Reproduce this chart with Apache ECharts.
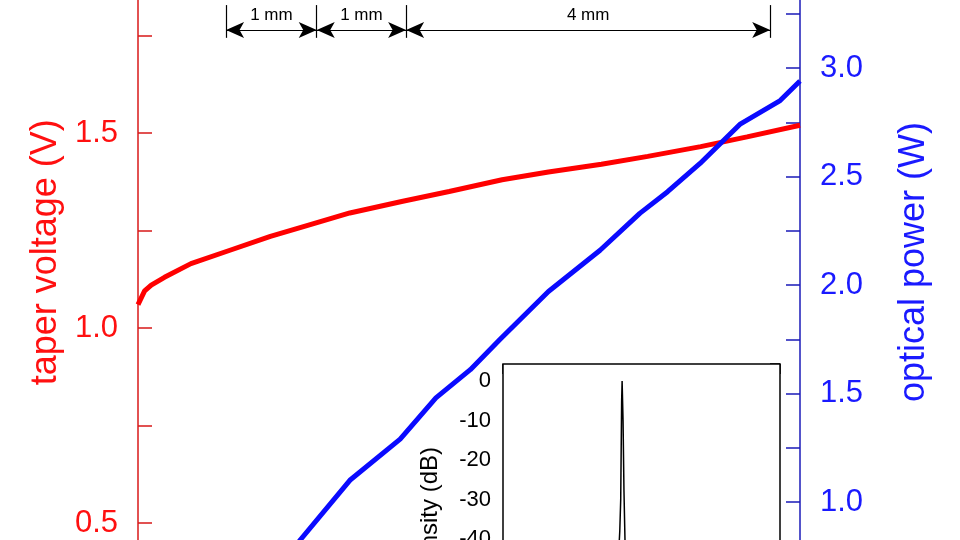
<!DOCTYPE html>
<html><head><meta charset="utf-8">
<script src="https://cdn.jsdelivr.net/npm/echarts@6/dist/echarts.min.js"></script>
<style>html,body{margin:0;background:#fff}#c{width:960px;height:540px}</style>
</head><body><div id="c"></div>
<script>
const voltX = [0,1,2,4,8,14,20,25,32,40,47,55,62,70,77,85,92,100];
const voltY = [1.06,1.095,1.11,1.13,1.165,1.20,1.235,1.26,1.295,1.325,1.35,1.38,1.40,1.42,1.44,1.465,1.49,1.52];
const powX = [20,24.5,32,39.6,45,50.2,54.7,62,69.8,75.8,80,84.9,90.9,97,100];
const powY = [0.62,0.825,1.1,1.29,1.48,1.61,1.75,1.97,2.16,2.33,2.43,2.56,2.74,2.85,2.94];
const specX = [0,1,1.9,2.0,2.03,2.05,2.07,2.08,2.1,2.12,2.15,2.2,3,4,5.46];
const specY = [-60,-60,-55,-45,-38,-30,-5,0,-10,-28,-45,-55,-60,-60,-60];
const markers = [13.3,27,40.5,95.5];
const markerLabels = ['1 mm','1 mm','4 mm'];

const vTop = 1.828, vBot = 1.744, vArrow = 1.764;
const mlData = markers.map(x => [{coord:[x,vTop],symbol:'none'},{coord:[x,vBot],symbol:'none'}]);
markers.slice(0,-1).forEach((x,i)=>{
  mlData.push([{coord:[x,vArrow],symbol:'arrow',label:{show:true,formatter:markerLabels[i]}},{coord:[markers[i+1],vArrow],symbol:'arrow'}]);
});
const halfFmt = v => (Math.abs(v*2-Math.round(v*2))<1e-6) ? v.toFixed(1) : '';

const chart = echarts.init(document.getElementById('c'));
chart.setOption({
  animation:false,
  grid:[{left:138,right:160,top:-62,bottom:-80.5,outerBoundsMode:'none',containLabel:false},
        {left:138,right:160,top:-40.5,bottom:-70.5,outerBoundsMode:'none',containLabel:false},
        {left:503,right:180,top:364,bottom:-38.5,outerBoundsMode:'none',containLabel:false,show:true,backgroundColor:'#fff',borderColor:'#000',borderWidth:1.5,z:5}],
  xAxis:[{gridIndex:0,type:'value',min:0,max:100,show:false},
         {gridIndex:1,type:'value',min:0,max:100,show:false},
         {gridIndex:2,type:'value',min:-0.47,max:5.46,interval:1,position:'top',
          axisLine:{show:false,onZero:false},axisLabel:{show:false},splitLine:{show:false},
          axisTick:{show:true,inside:true,length:10,lineStyle:{color:'#000',width:1.5}}}],
  yAxis:[
    {gridIndex:0,type:'value',min:0.25,max:2.0,interval:0.25,position:'left',
     name:'taper voltage (V)',nameLocation:'middle',nameGap:71,nameRotate:90,
     nameTextStyle:{color:'#ff1010',fontSize:36,fontFamily:'Liberation Sans',padding:[0,0,0,54]},
     axisLine:{show:true,onZero:false,lineStyle:{color:'#d81818',width:1.5}},
     axisTick:{show:true,inside:true,length:14,lineStyle:{color:'#d81818',width:1.5}},
     axisLabel:{color:'#ff1010',fontSize:31,fontFamily:'Liberation Sans',margin:20,formatter:halfFmt},
     splitLine:{show:false}},
    {gridIndex:1,type:'value',min:0.5,max:3.5,interval:0.25,position:'right',
     name:'optical power (W)',nameLocation:'middle',nameGap:96,nameRotate:90,
     nameTextStyle:{color:'#1a1aff',fontSize:36,fontFamily:'Liberation Sans',padding:[0,0,0,46]},
     axisLine:{show:true,onZero:false,lineStyle:{color:'#1a1ab8',width:1.5}},
     axisTick:{show:true,inside:true,length:14,lineStyle:{color:'#1a1ab8',width:1.5}},
     axisLabel:{color:'#1a1aff',fontSize:31,fontFamily:'Liberation Sans',margin:20,formatter:halfFmt},
     splitLine:{show:false}},
    {gridIndex:2,type:'value',min:-50,max:4.3,interval:5,position:'left',
     axisLine:{show:false,onZero:false},splitLine:{show:false},
     axisTick:{show:true,inside:true,length:10,lineStyle:{color:'#000',width:1.5}},
     axisLabel:{color:'#000',fontSize:22,fontFamily:'Liberation Sans',margin:12,showMaxLabel:false,
       formatter:v=>(Math.round(v)%10===0)?String(Math.round(v)):''}},
    {gridIndex:2,type:'value',min:-50,max:4.3,interval:5,position:'right',
     axisLine:{show:false,onZero:false},splitLine:{show:false},axisLabel:{show:false},
     axisTick:{show:true,inside:true,length:10,lineStyle:{color:'#000',width:1.5}}}
  ],
  graphic:[{type:'text',x:418,y:447,rotation:Math.PI/2,z:10,
    style:{text:'Intensity (dB)',fill:'#000',font:'24px "Liberation Sans"',textAlign:'right',textVerticalAlign:'top'}}],
  series:[
    {type:'line',xAxisIndex:0,yAxisIndex:0,data:voltX.map((x,i)=>[x,voltY[i]]),showSymbol:false,
     lineStyle:{color:'#ff0000',width:5},
     markLine:{silent:true,symbolSize:[12,18],lineStyle:{color:'#000',width:1.2,type:'solid'},
       label:{show:false,position:'middle',color:'#000',fontSize:17,fontFamily:'Liberation Sans',distance:6},
       data:mlData}},
    {type:'line',xAxisIndex:1,yAxisIndex:1,data:powX.map((x,i)=>[x,powY[i]]),showSymbol:false,
     lineStyle:{color:'#0a0aff',width:5}},
    {type:'line',xAxisIndex:2,yAxisIndex:2,data:specX.map((x,i)=>[x,specY[i]]),showSymbol:false,z:6,
     lineStyle:{color:'#000',width:1.5}}
  ]
});
</script></body></html>
